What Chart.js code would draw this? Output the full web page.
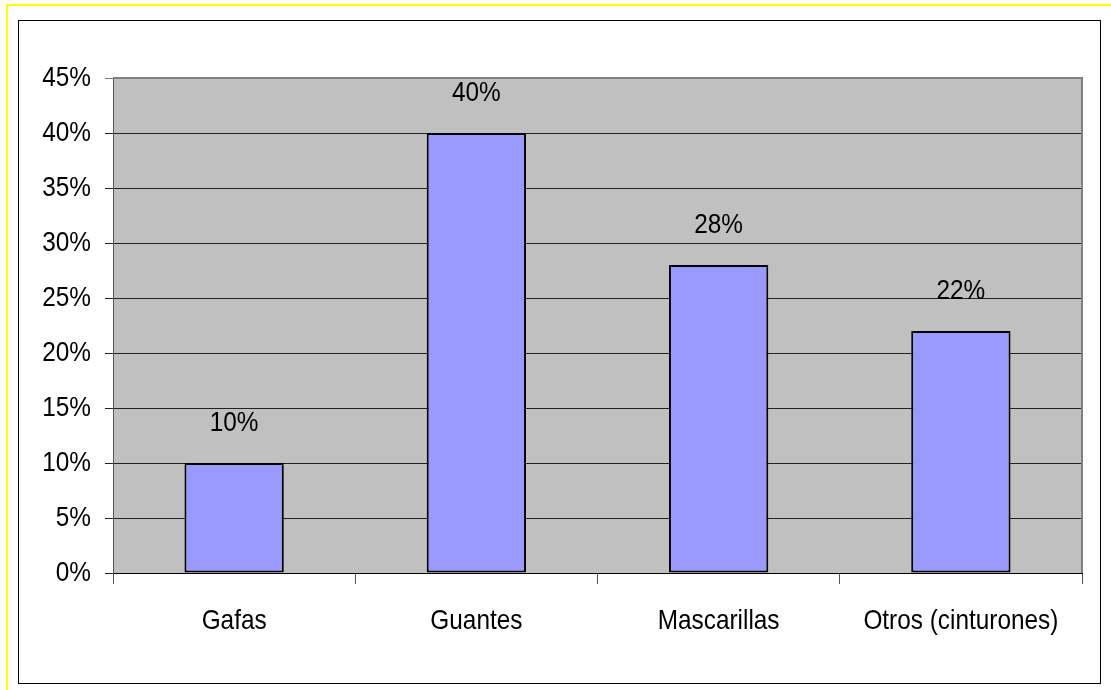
<!DOCTYPE html>
<html>
<head>
<meta charset="utf-8">
<script src="https://cdn.jsdelivr.net/npm/chart.js@4"></script>
<style>
  html, body { margin: 0; padding: 0; background: #fff; overflow: hidden; }
  #wrap { position: relative; width: 1111px; height: 690px; }
  #yellow { position: absolute; left: 6px; top: 4px; width: 1120px; height: 700px; border: 2px solid #FFFF00; box-sizing: border-box; }
  #frame { position: absolute; left: 18px; top: 20px; width: 1083px; height: 664px; border: 1px solid #000; box-sizing: border-box; }
  canvas { position: absolute; left: 0; top: 0; }
</style>
</head>
<body>
<div id="wrap">
  <div id="yellow"></div>
  <div id="frame"></div>
  <canvas id="c" width="1111" height="690"></canvas>
</div>
<script>
const categories = ["Gafas", "Guantes", "Mascarillas", "Otros (cinturones)"];
const values = [10, 40, 28, 22];
const valueLabels = ["10%", "40%", "28%", "22%"];
const yMax = 45;
const yStep = 5;

const FONT = "'Liberation Sans', Arial, sans-serif";
const FONT_SIZE = 28;
const SQUEEZE = 0.87;

function squeezedText(ctx, text, x, y, align) {
  ctx.save();
  ctx.translate(x, y);
  ctx.scale(SQUEEZE, 1);
  ctx.textAlign = align;
  ctx.fillText(text, 0, 0);
  ctx.restore();
}

const plotBg = {
  id: 'plotBg',
  beforeDraw(chart) {
    const { ctx, chartArea: a } = chart;
    ctx.save();
    ctx.fillStyle = '#C0C0C0';
    ctx.fillRect(a.left, a.top, a.right - a.left, a.bottom - a.top);
    ctx.restore();
  },
  afterDraw(chart) {
    const { ctx, chartArea: a } = chart;
    ctx.save();
    ctx.strokeStyle = '#808080';
    ctx.lineWidth = 2;
    ctx.beginPath();
    ctx.moveTo(a.left, a.top);
    ctx.lineTo(a.right, a.top);
    ctx.lineTo(a.right, a.bottom);
    ctx.stroke();
    ctx.restore();
  }
};

const textPlugin = {
  id: 'squeezedText',
  afterDraw(chart) {
    const { ctx } = chart;
    const xs = chart.scales.x, ys = chart.scales.y;
    ctx.save();
    ctx.font = FONT_SIZE + "px " + FONT;
    ctx.fillStyle = '#000';
    ctx.textBaseline = 'middle';
    // y tick labels
    ys.ticks.forEach((t, i) => {
      squeezedText(ctx, t.value + '%', xs.left - 22, ys.getPixelForTick(i), 'right');
    });
    // x tick labels
    categories.forEach((c, i) => {
      squeezedText(ctx, c, xs.getPixelForTick(i), xs.top + 48, 'center');
    });
    // value labels
    const meta = chart.getDatasetMeta(0);
    meta.data.forEach((bar, i) => {
      squeezedText(ctx, valueLabels[i], bar.x, bar.y - 40, 'center');
    });
    ctx.restore();
  }
};

new Chart(document.getElementById('c'), {
  type: 'bar',
  data: {
    labels: categories,
    datasets: [{
      data: values,
      backgroundColor: '#9999FF',
      borderColor: '#000000',
      borderWidth: 2,
      borderSkipped: false,
      barPercentage: 0.41,
      categoryPercentage: 1.0
    }]
  },
  options: {
    responsive: false,
    animation: false,
    devicePixelRatio: 1,
    layout: { padding: { left: 0, top: 78, right: 29, bottom: 0 } },
    plugins: { legend: { display: false }, tooltip: { enabled: false } },
    scales: {
      x: {
        grid: { drawOnChartArea: false, drawTicks: true, tickLength: 11, color: '#555', offset: true },
        border: { display: true, color: '#000', width: 1 },
        ticks: { color: 'rgba(0,0,0,0)', font: { family: FONT, size: FONT_SIZE }, padding: 20, maxRotation: 0 },
        afterFit(scale) { scale.height = 117; }
      },
      y: {
        min: 0, max: yMax,
        grid: {
          color: (ctx) => (ctx.tick && ctx.tick.value === yMax) ? '#808080' : '#222',
          lineWidth: 1,
          tickLength: 8,
          drawTicks: true
        },
        border: { display: true, color: '#555', width: 1 },
        ticks: {
          stepSize: yStep,
          color: 'rgba(0,0,0,0)',
          font: { family: FONT, size: FONT_SIZE },
          padding: 14,
          callback: (v) => v + '%'
        },
        afterFit(scale) { scale.width = 113; }
      }
    }
  },
  plugins: [plotBg, textPlugin]
});
</script>
</body>
</html>
